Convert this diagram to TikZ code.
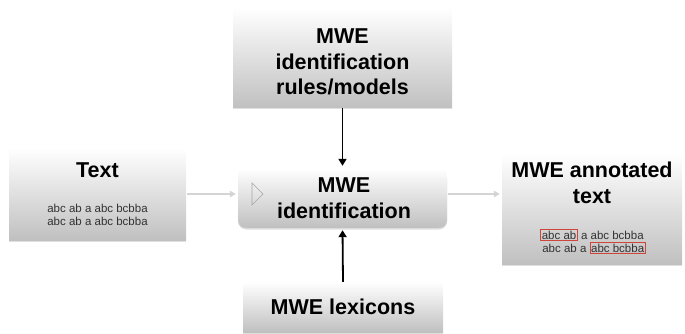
\documentclass[tikz,border=0pt]{standalone}
\usepackage{fontspec}
\setmainfont{Liberation Sans}
\usetikzlibrary{shadows,arrows.meta}
\definecolor{boxgrey}{HTML}{C0C0C0}
\definecolor{textgrey}{HTML}{333333}
\definecolor{arrowgrey}{HTML}{D4D4D4}
\definecolor{redframe}{HTML}{D0453A}
\newcommand{\rfr}[1]{{\setlength{\fboxsep}{0.8pt}\setlength{\fboxrule}{0.7pt}\color{redframe}\fbox{\color{textgrey}#1}}}
\tikzset{
  box/.style={inner sep=0pt, top color=white, bottom color=boxgrey,
    drop shadow={shadow xshift=0pt, shadow yshift=-1.5pt, opacity=0.25}},
  title/.style={font=\fontsize{21.5}{25.5}\selectfont\bfseries, align=center, inner sep=0pt, text=black},
  small/.style={font=\fontsize{11.5}{12.5}\selectfont, align=center, inner sep=0pt, text=textgrey},
  blackarrow/.style={line width=1.8pt, shorten >=2pt, -{Triangle[length=7pt,width=8pt]}},
  greyarrow/.style={draw=arrowgrey, line width=1.2pt, shorten >=2pt, shorten <=1pt, -{Triangle[length=6pt,width=6.5pt]}}
}
\begin{document}
\begin{tikzpicture}[x=1pt,y=-1pt]
\useasboundingbox (0,0) rectangle (685,334);
% boxes
\node[box, minimum width=177pt, minimum height=92pt] (text) at (97.5,194) {};
\node[box, minimum width=219pt, minimum height=100pt] (rules) at (342.5,58) {};
\node[box, rounded corners=8pt, minimum width=209pt, minimum height=60pt] (ident) at (342.5,198) {};
\node[box, minimum width=180pt, minimum height=110pt] (annot) at (592,209) {};
\node[box, minimum width=200pt, minimum height=50pt] (lex) at (343,307) {};
% texts
\node[title] (ttext) at (97.5,170) {Text};
\node[small] (stext) at (97.5,215) {abc ab a abc bcbba\\abc ab a abc bcbba};
\node[title] (trules) at (342.5,62) {MWE\\identification\\rules/models};
\node[title] (tident) at (344,198) {MWE\\identification};
\node[title] (tannot) at (592,183) {MWE annotated\\text};
\node[small] (sannot1) at (592,235) {\rfr{abc ab} a abc bcbba};
\node[small] (sannot2) at (594,248) {abc ab a \rfr{abc bcbba}};
\node[title] (tlex) at (343,307) {MWE lexicons};
% triangle
\draw[gray!70, line width=0.6pt, line join=miter] (252,183) -- (263,194) -- (252,205) -- cycle;
% arrows
\draw[blackarrow] (rules.south) -- (ident.north);
\draw[blackarrow] (lex.north) -- (ident.south);
\draw[greyarrow] (text.east) -- (ident.west |- text.east);
\draw[greyarrow] (ident.east |- text.east) -- (annot.west |- text.east);
\end{tikzpicture}
\end{document}
